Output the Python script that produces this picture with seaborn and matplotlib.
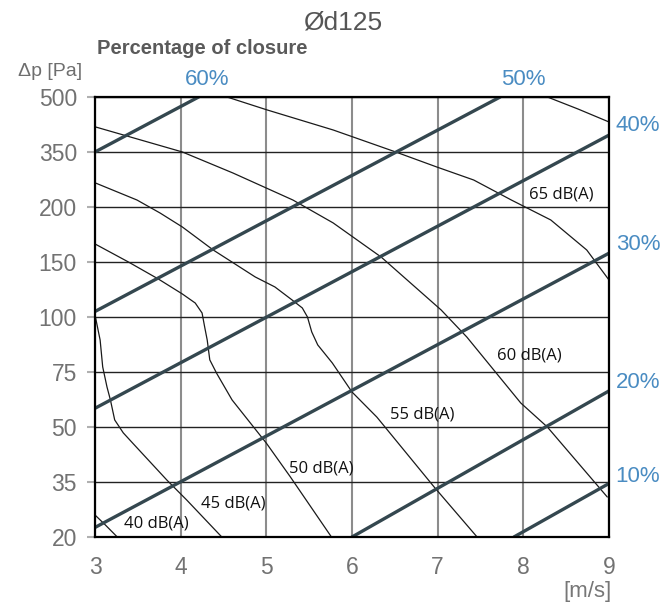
#!/usr/bin/env python3
"""
Pressure drop / air velocity chart for a d125 damper.

Thin curves are sound levels in dB(A), thick lines are the
percentage of closure. The pressure axis uses the chart's own
uneven scale (ticks equally spaced).
"""

import matplotlib

matplotlib.use("Agg")

import matplotlib.pyplot as plt
import numpy as np
import pandas as pd
import seaborn as sns

OUTPUT_FILENAME = "out.png"

# Axis ticks
VELOCITY_TICKS = [3, 4, 5, 6, 7, 8, 9]
PRESSURE_TICKS = [20, 35, 50, 75, 100, 150, 200, 350, 500]

# Sound level curves, velocity [m/s] and pressure [Pa]
V_40DB = [3.0, 3.12, 3.26]
P_40DB = [26, 23.3, 20]

V_45DB = [3.0, 3.06, 3.09, 3.14, 3.18, 3.23, 3.33, 3.44, 3.84, 4.07, 4.48]
P_45DB = [102, 89.5, 77.3, 68.2, 62.3, 53.2, 48.4, 45.6, 35.5, 30.1, 20]

V_50DB = [3.0, 3.39, 3.74, 4.02, 4.17, 4.25, 4.28, 4.31, 4.34, 4.42, 4.60,
          5.00, 5.28, 5.76]
P_50DB = [166.4, 150, 134.5, 120.9, 112.7, 103.6, 95.5, 89.5, 80.5, 74.4, 62.3,
          45.6, 36.4, 20]

V_55DB = [3.01, 3.49, 3.76, 4.02, 4.38, 4.87, 5.10, 5.30, 5.42, 5.48, 5.53,
          5.60, 5.77, 6.0, 6.29, 6.96, 7.46]
P_55DB = [265, 219, 194.5, 181.8, 160.9, 136.4, 127.3, 115.5, 108.2, 100, 93.2,
          87.3, 79.1, 65.9, 54.5, 33.6, 20]

V_60DB = [3.01, 4.02, 4.61, 5.31, 5.78, 6.34, 7.04, 7.34, 7.97, 8.28, 8.98]
P_60DB = [418, 350, 292.7, 219, 185.5, 154.5, 106.4, 90.9, 60.9, 50, 30.9]

V_65DB = [4.54, 5.01, 5.78, 6.51, 6.99, 7.42, 7.86, 8.32, 8.74, 9.0]
P_65DB = [500, 464.6, 410, 350, 309, 273.6, 219, 188.2, 160.9, 133.6]

V_70DB = [8.28, 8.64, 9.0]
P_70DB = [500, 467, 431.8]

DB_LABELS = ["40 dB(A)", "45 dB(A)", "50 dB(A)", "55 dB(A)", "60 dB(A)", "65 dB(A)"]

# Percentage of closure lines (straight on the chart), start and end points
CLOSURE_LABELS = ["60%", "50%", "40%", "30%", "20%", "10%"]
CLOSURE_V_START = [3.0, 3.0, 3.0, 3.0, 6.0, 7.89]
CLOSURE_P_START = [350, 105, 58.5, 22.6, 20, 20]
CLOSURE_V_END = [4.21, 7.73, 9.0, 9.0, 9.0, 9.0]
CLOSURE_P_END = [500, 500, 396, 158, 66.4, 34.6]


def p_forward(p):
    return np.interp(p, PRESSURE_TICKS, np.arange(len(PRESSURE_TICKS)))


def p_inverse(i):
    return np.interp(i, np.arange(len(PRESSURE_TICKS)), PRESSURE_TICKS)


def build_frames():
    sound = [
        ("40", V_40DB, P_40DB),
        ("45", V_45DB, P_45DB),
        ("50", V_50DB, P_50DB),
        ("55", V_55DB, P_55DB),
        ("60", V_60DB, P_60DB),
        ("65", V_65DB, P_65DB),
        ("70", V_70DB, P_70DB),
    ]
    rows = []
    for name, vs, ps in sound:
        for order, (v, p) in enumerate(zip(vs, ps)):
            rows.append({"curve": name, "order": order, "v": v, "p": p})
    df_sound = pd.DataFrame(rows)

    rows = []
    for i, label in enumerate(CLOSURE_LABELS):
        rows.append({"line": label, "v": CLOSURE_V_START[i], "p": CLOSURE_P_START[i]})
        rows.append({"line": label, "v": CLOSURE_V_END[i], "p": CLOSURE_P_END[i]})
    df_closure = pd.DataFrame(rows)
    return df_sound, df_closure


def main():
    df_sound, df_closure = build_frames()

    sns.set_theme(style="white")
    plt.rcParams["font.family"] = ["Liberation Sans", "DejaVu Sans"]

    fig = plt.figure(figsize=(6.68, 6.08), dpi=100)
    ax = fig.add_axes([0.1422, 0.1168, 0.7695, 0.7237])

    ax.set_yscale("function", functions=(p_forward, p_inverse))
    ax.set_xlim(3, 9)
    ax.set_ylim(20, 500)

    # Grid
    ax.set_xticks(VELOCITY_TICKS)
    ax.set_yticks(PRESSURE_TICKS)
    ax.set_yticklabels([str(t) for t in PRESSURE_TICKS])
    ax.xaxis.grid(True, color="#8c8c8c", linewidth=1.5)
    ax.yaxis.grid(True, color="#222222", linewidth=1.0)
    ax.set_axisbelow(True)

    # Sound level curves
    curve_names = df_sound["curve"].unique()
    sns.lineplot(
        data=df_sound,
        x="v",
        y="p",
        hue="curve",
        palette={c: "#1a1a1a" for c in curve_names},
        sort=False,
        estimator=None,
        linewidth=0.9,
        legend=False,
        ax=ax,
    )

    # Closure lines
    sns.lineplot(
        data=df_closure,
        x="v",
        y="p",
        hue="line",
        palette={c: "#34474f" for c in CLOSURE_LABELS},
        sort=False,
        estimator=None,
        linewidth=2.4,
        legend=False,
        ax=ax,
    )

    # dB(A) labels
    db_label_pos = [(3.72, 23.8), (4.61, 29), (5.64, 38.8), (6.82, 55.9), (8.07, 82.7), (8.44, 232.7)]
    for text, (v, p) in zip(DB_LABELS, db_label_pos):
        ax.text(v, p, text, ha="center", va="center", fontsize=12,
                family=["Open Sans", "DejaVu Sans"], color="#111111")

    # Closure labels
    blue = "#4a8cc2"
    top_pos = {"60%": 4.31, "50%": 8.0}
    for label, v in top_pos.items():
        ax.text(v, 1.039, label, transform=ax.get_xaxis_transform(),
                ha="center", va="center", fontsize=16, color=blue, clip_on=False)
    right_pos = {"40%": 423, "30%": 165.5, "20%": 70, "10%": 36.6}
    for label, p in right_pos.items():
        ax.text(1.013, p, label, transform=ax.get_yaxis_transform(),
                ha="left", va="center", fontsize=16, color=blue, clip_on=False)

    # Axes styling
    for spine in ax.spines.values():
        spine.set_visible(True)
        spine.set_color("black")
        spine.set_linewidth(1.6)
    ax.tick_params(axis="y", left=True, length=6, width=1.5, color="#b0b0b0",
                   labelsize=16.5, labelcolor="#727272", pad=7)
    ax.tick_params(axis="x", bottom=False, labelsize=16.5, labelcolor="#727272", pad=8)
    ax.set_xlabel("")
    ax.set_ylabel("")

    # Figure texts
    fig.text(343 / 668, 1 - 22 / 608, "Ød125", ha="center", va="center",
             fontsize=19, color="#555555")
    fig.text(97 / 668, 1 - 48 / 608, "Percentage of closure", ha="left", va="center",
             fontsize=14.5, fontweight="bold", color="#5a5a5a")
    fig.text(50 / 668, 1 - 71 / 608, "Δp [Pa]", ha="center", va="center",
             fontsize=14, color="#6e6e6e")
    fig.text(612 / 668, 1 - 592 / 608, "[m/s]", ha="right", va="center",
             fontsize=16, color="#777777")

    fig.savefig(OUTPUT_FILENAME, dpi=100)


if __name__ == "__main__":
    main()
